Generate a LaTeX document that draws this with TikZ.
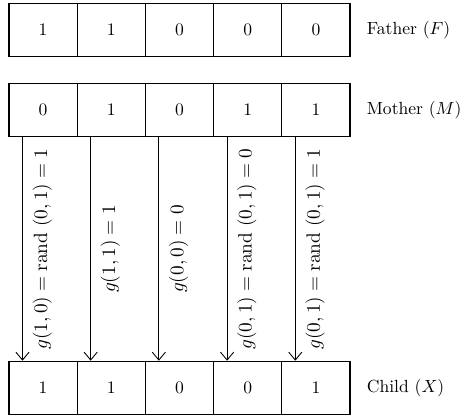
\documentclass[tikz,border=0pt]{standalone}
\usepackage{amsmath}
\usepackage{tikz}
\usetikzlibrary{positioning,arrows.meta}

\begin{document}
\begin{tikzpicture}[x=0.02cm,y=-0.02cm,
  cell/.style={rectangle,draw,line width=0.6pt,minimum width=1.364cm,
    minimum height=1.07cm,inner sep=0pt},
  rowlabel/.style={anchor=west,inner sep=0pt},
  gene/.style={midway,rotate=90,anchor=north,inner sep=5.5pt,
    font=\fontsize{10.5pt}{12pt}\selectfont},
  inherit/.style={line width=0.5pt,-{Straight Barb[length=4.5pt,width=7.5pt]}}
]
\useasboundingbox (0,0) rectangle (466,418);

% the three chromosomes
\foreach \v [count=\i from 1] in {1,1,0,0,0}
  \node[cell] (f\i) at (-25.1+68.2*\i,30) {\v};
\foreach \v [count=\i from 1] in {0,1,0,1,1}
  \node[cell] (m\i) at (-25.1+68.2*\i,110) {\v};
\foreach \v [count=\i from 1] in {1,1,0,0,1}
  \node[cell] (c\i) at (-25.1+68.2*\i,388) {\v};

\node[rowlabel] (fl) at ([xshift=0.32cm]f5.east) {Father ($F$)};
\node[rowlabel] (ml) at ([xshift=0.32cm]m5.east) {Mother ($M$)};
\node[rowlabel] (cl) at ([xshift=0.32cm]c5.east) {Child ($X$)};

% gene-wise inheritance
\foreach \i/\lab in {1/{$g(1,0) = \mathrm{rand}\ (0,1) = 1$},
                     2/{$g(1,1) = 1$},
                     3/{$g(0,0) = 0$},
                     4/{$g(0,1) = \mathrm{rand}\ (0,1) = 0$},
                     5/{$g(0,1) = \mathrm{rand}\ (0,1) = 1$}}
  \draw[inherit] ([xshift=0.28cm]m\i.south west) -- ([xshift=0.28cm]c\i.north west)
    node[gene] {\lab};
\end{tikzpicture}
\end{document}
